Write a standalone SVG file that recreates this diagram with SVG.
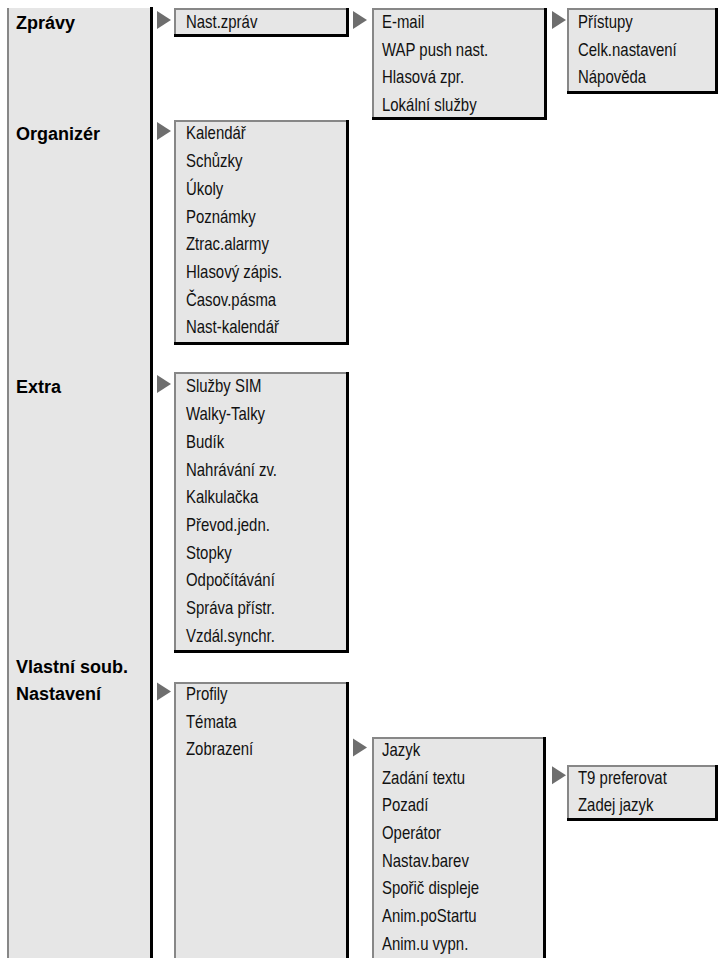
<svg xmlns="http://www.w3.org/2000/svg" width="719" height="958" viewBox="0 0 719 958">
<style>
.box{fill:#e6e6e6}
.g{stroke:#878787;stroke-width:2;fill:none}
.k{stroke:#000;stroke-width:3;fill:none}
.b{font-family:"Liberation Sans",Arial,sans-serif;font-weight:bold;font-size:18px;fill:#000}
.t{font-family:"Liberation Sans",Arial,sans-serif;font-size:18px;fill:#111}
.arr{fill:#6e6e6e}
</style>
<rect width="719" height="958" fill="#fff"/>
<g id="main-menu">
<rect class="box" x="7" y="8" width="146" height="950"/>
<path class="g" d="M8,958 V8"/>
<path class="k" d="M151.5,7 V958"/>
<text class="b" x="16" y="28.5">Zprávy</text>
<text class="b" x="16" y="139.5">Organizér</text>
<text class="b" x="16" y="392.5">Extra</text>
<text class="b" x="16" y="672.5">Vlastní soub.</text>
<text class="b" x="16" y="700">Nastavení</text>
</g>
<g id="zpravy-menu">
<rect class="box" x="174" y="8" width="175" height="29"/>
<path class="g" d="M175,37 V9 H349"/>
<path class="k" d="M347.5,8 V35.5 H174"/>
<g transform="translate(186,0) scale(0.83,1)"><text class="t" x="0" y="28.5">Nast.zpráv</text></g>
</g>
<g id="nast-zprav-menu">
<rect class="box" x="372" y="8" width="175" height="112"/>
<path class="g" d="M373,120 V9 H547"/>
<path class="k" d="M545.5,8 V118.5 H372"/>
<g transform="translate(382,0) scale(0.83,1)">
<text class="t" x="0" y="28.5">E-mail</text>
<text class="t" x="0" y="56">WAP push nast.</text>
<text class="t" x="0" y="83.5">Hlasová zpr.</text>
<text class="t" x="0" y="111">Lokální služby</text>
</g>
</g>
<g id="email-menu">
<rect class="box" x="567" y="8" width="151" height="86"/>
<path class="g" d="M568,94 V9 H718"/>
<path class="k" d="M716.5,8 V92.5 H567"/>
<g transform="translate(578,0) scale(0.83,1)">
<text class="t" x="0" y="28.5">Přístupy</text>
<text class="t" x="0" y="56">Celk.nastavení</text>
<text class="t" x="0" y="83.5">Nápověda</text>
</g>
</g>
<g id="organizer-menu">
<rect class="box" x="174" y="120" width="175" height="225"/>
<path class="g" d="M175,345 V121 H349"/>
<path class="k" d="M347.5,120 V343.5 H174"/>
<g transform="translate(186,0) scale(0.83,1)">
<text class="t" x="0" y="139.5">Kalendář</text>
<text class="t" x="0" y="167.2">Schůzky</text>
<text class="t" x="0" y="194.9">Úkoly</text>
<text class="t" x="0" y="222.6">Poznámky</text>
<text class="t" x="0" y="250.3">Ztrac.alarmy</text>
<text class="t" x="0" y="278">Hlasový zápis.</text>
<text class="t" x="0" y="305.7">Časov.pásma</text>
<text class="t" x="0" y="333.4">Nast-kalendář</text>
</g>
</g>
<g id="extra-menu">
<rect class="box" x="174" y="372" width="175" height="281"/>
<path class="g" d="M175,653 V373 H349"/>
<path class="k" d="M347.5,372 V651.5 H174"/>
<g transform="translate(186,0) scale(0.83,1)">
<text class="t" x="0" y="392.5">Služby SIM</text>
<text class="t" x="0" y="420.2">Walky-Talky</text>
<text class="t" x="0" y="447.9">Budík</text>
<text class="t" x="0" y="475.6">Nahrávání zv.</text>
<text class="t" x="0" y="503.3">Kalkulačka</text>
<text class="t" x="0" y="531">Převod.jedn.</text>
<text class="t" x="0" y="558.7">Stopky</text>
<text class="t" x="0" y="586.4">Odpočítávání</text>
<text class="t" x="0" y="614.1">Správa přístr.</text>
<text class="t" x="0" y="641.8">Vzdál.synchr.</text>
</g>
</g>
<g id="nastaveni-menu">
<rect class="box" x="174" y="682" width="175" height="276"/>
<path class="g" d="M175,958 V683 H349"/>
<path class="k" d="M347.5,682 V958"/>
<g transform="translate(186,0) scale(0.83,1)">
<text class="t" x="0" y="700">Profily</text>
<text class="t" x="0" y="727.7">Témata</text>
<text class="t" x="0" y="755.4">Zobrazení</text>
</g>
</g>
<g id="zobrazeni-menu">
<rect class="box" x="372" y="737" width="174" height="221"/>
<path class="g" d="M373,958 V738 H546"/>
<path class="k" d="M544.5,737 V958"/>
<g transform="translate(382,0) scale(0.83,1)">
<text class="t" x="0" y="756">Jazyk</text>
<text class="t" x="0" y="783.7">Zadání textu</text>
<text class="t" x="0" y="811.4">Pozadí</text>
<text class="t" x="0" y="839.1">Operátor</text>
<text class="t" x="0" y="866.8">Nastav.barev</text>
<text class="t" x="0" y="894.5">Spořič displeje</text>
<text class="t" x="0" y="922.2">Anim.poStartu</text>
<text class="t" x="0" y="949.9">Anim.u vypn.</text>
</g>
</g>
<g id="zadani-textu-menu">
<rect class="box" x="567" y="765" width="151" height="56"/>
<path class="g" d="M568,821 V766 H718"/>
<path class="k" d="M716.5,765 V819.5 H567"/>
<g transform="translate(578,0) scale(0.83,1)">
<text class="t" x="0" y="783.7">T9 preferovat</text>
<text class="t" x="0" y="811.4">Zadej jazyk</text>
</g>
</g>
<g id="connectors">
<polygon class="arr" points="157,11 171,20 157,29"/>
<polygon class="arr" points="353,11 367,20 353,29"/>
<polygon class="arr" points="552,11 566,20 552,29"/>
<polygon class="arr" points="157,122 171,131 157,140"/>
<polygon class="arr" points="157,375 171,384 157,393"/>
<polygon class="arr" points="157,682.5 171,691.5 157,700.5"/>
<polygon class="arr" points="353,738.5 367,747.5 353,756.5"/>
<polygon class="arr" points="552,766.2 566,775.2 552,784.2"/>
</g>
</svg>
